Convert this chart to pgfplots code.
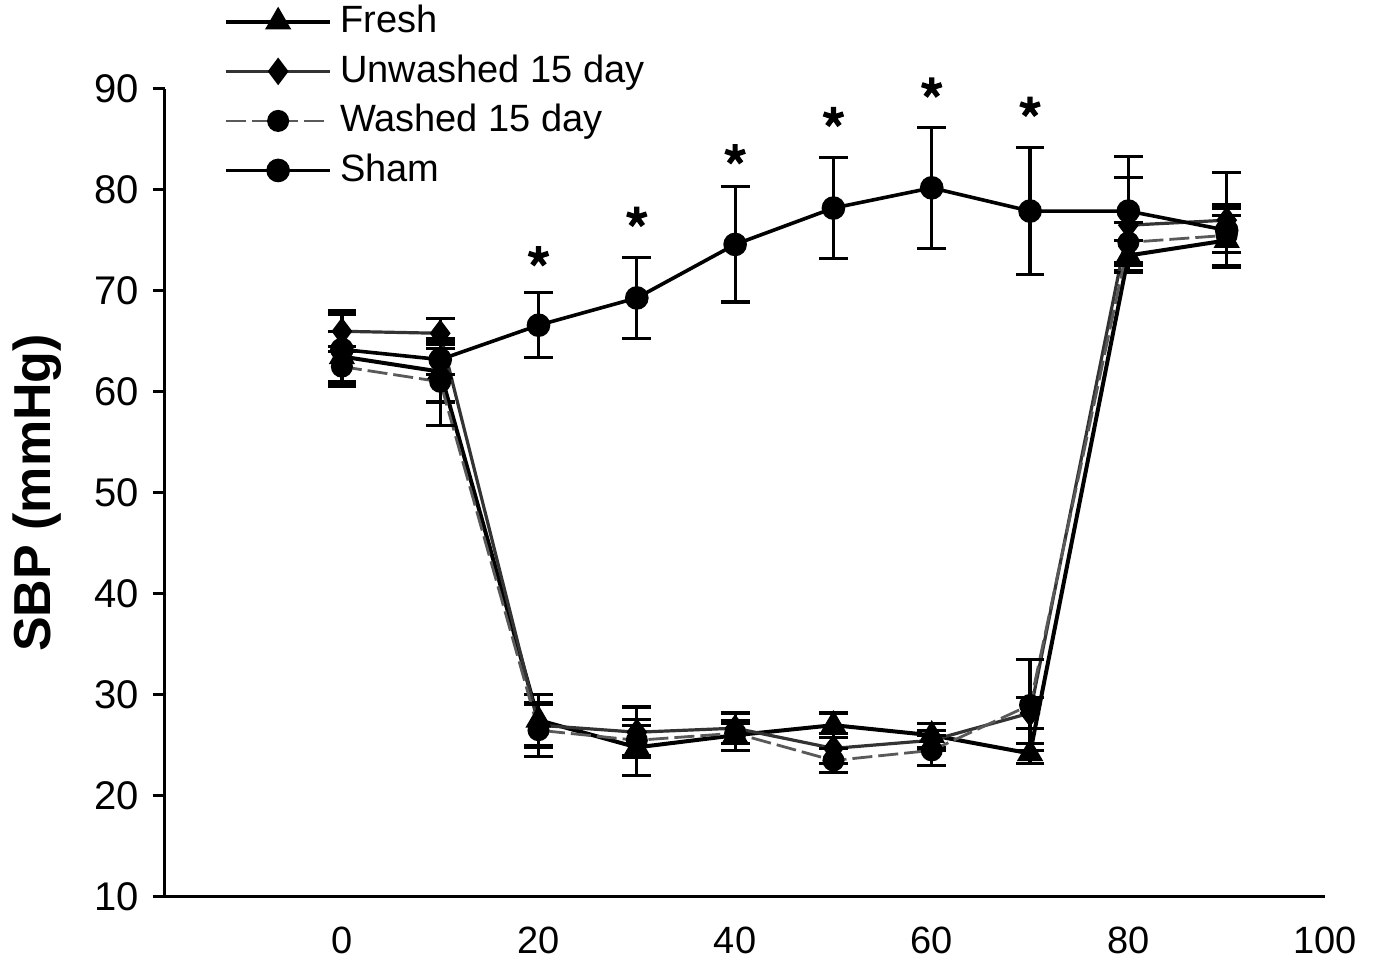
\documentclass[border=0pt]{standalone}
\usepackage{fontspec}
\setmainfont{Liberation Sans}
\usepackage{pgfplots}
\usepackage{pgfplotstable}
\pgfplotsset{compat=1.18}

\pgfplotstableread{
x y e
0 63.5 2.5
10 62.0 3.0
20 27.5 2.5
30 24.8 2.8
40 26.0 1.5
50 27.0 1.2
60 26.0 1.2
70 24.2 1.0
80 73.5 1.5
90 75.0 2.5
}\fresh

\pgfplotstableread{
x y e
0 66.0 2.0
10 65.8 1.5
20 27.0 2.2
30 26.3 2.5
40 26.7 1.5
50 24.7 1.5
60 25.5 1.0
70 28.2 1.5
80 76.5 4.7
90 77.0 4.7
}\unwashed

\pgfplotstableread{
x y e
0 62.5 2.0
10 61.0 4.3
20 26.5 2.6
30 25.5 1.5
40 26.2 1.0
50 23.5 1.2
60 24.5 1.5
70 29.0 4.5
80 74.8 2.0
90 75.5 3.0
}\washed

\pgfplotstableread{
x y e
0 64.2 3.5
10 63.2 1.5
20 66.6 3.2
30 69.3 4.0
40 74.6 5.7
50 78.2 5.0
60 80.2 6.0
70 77.9 6.3
80 77.9 5.4
90 76.0 2.2
}\sham

\begin{document}
\begin{tikzpicture}
\begin{axis}[
  scale only axis, width=290pt, height=202pt,
  xmin=-18, xmax=100, ymin=10, ymax=90,
  axis lines=left, axis line style={-, line width=0.75pt},
  xtick={0,20,...,100}, ytick={10,20,...,90},
  xtick style={draw=none},
  tick align=outside, major tick length=3pt,
  ytick style={line width=0.75pt, black},
  /pgf/number format/assume math mode=true,
  xticklabel style={font=\fontsize{9.5}{11}\selectfont, yshift=-1pt},
  yticklabel style={font=\fontsize{10}{12}\selectfont},
  ylabel={\textbf{SBP (mmHg)}},
  ylabel style={font=\fontsize{13}{15}\selectfont, at={(axis description cs:-0.11,0.5)}, anchor=center},
  clip=false,
  legend style={draw=none, fill=none, font=\fontsize{9.5}{11}\selectfont,
    at={(axis description cs:0.04,0.991)}, anchor=west, row sep=0pt},
  legend cell align=left,
  legend image code/.code={\draw[mark repeat=2,mark phase=2,#1] plot coordinates {(0pt,0pt) (13pt,0pt) (26pt,0pt)};},
  error bars/error bar style={line width=0.8pt, solid, black},
  error bars/error mark options={rotate=90, mark size=3.6pt, line width=0.8pt, black},
]
\addplot[black, line width=1pt, mark=triangle*, mark size=2.8pt,
  error bars/.cd, y dir=both, y explicit] table[x=x, y=y, y error=e] {\fresh};
\addlegendentry{Fresh}
\addplot[black!80, line width=0.8pt, mark=diamond*, mark size=2.8pt, mark options={black},
  error bars/.cd, y dir=both, y explicit] table[x=x, y=y, y error=e] {\unwashed};
\addlegendentry{Unwashed 15 day}
\addplot[black!65, line width=0.7pt, dash pattern=on 5pt off 1.5pt, mark=*, mark size=2.4pt, mark options={black, solid},
  error bars/.cd, y dir=both, y explicit] table[x=x, y=y, y error=e] {\washed};
\addlegendentry{Washed 15 day}
\addplot[black, line width=0.9pt, mark=*, mark size=2.5pt,
  error bars/.cd, y dir=both, y explicit] table[x=x, y=y, y error=e] {\sham};
\addlegendentry{Sham}
\addplot[only marks, black, mark=star, mark size=2.6pt, line width=1.3pt, forget plot]
  coordinates {(20,73.4) (30,77.3) (40,83.5) (50,87.2) (60,90.1) (70,88.2)};
\coordinate (bl) at (axis description cs:-0.1422,-0.078);
\coordinate (tr) at (axis description cs:1.044,1.110);
\end{axis}
\pgfresetboundingbox
\path (bl) rectangle (tr);
\end{tikzpicture}
\end{document}
